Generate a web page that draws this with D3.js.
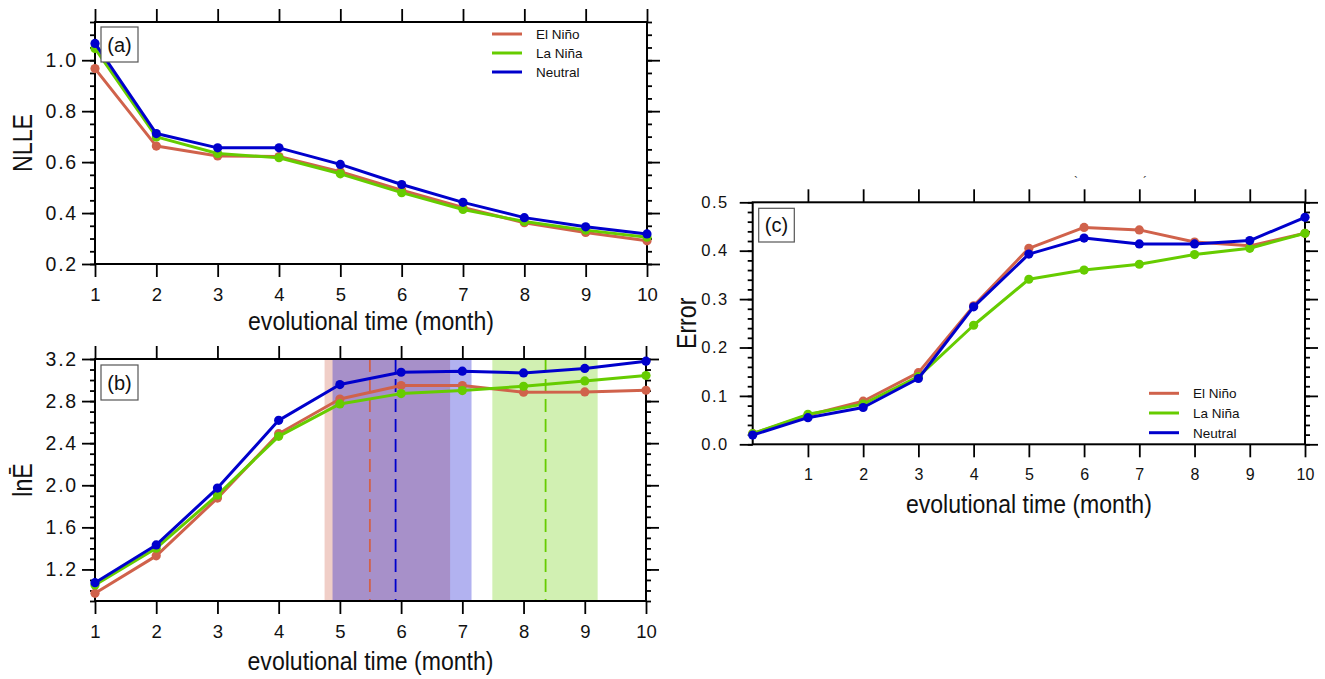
<!DOCTYPE html>
<html>
<head>
<meta charset="utf-8">
<script src="https://cdn.jsdelivr.net/npm/d3@7"></script>
<style>
  html, body { margin: 0; padding: 0; background: #fff; }
  svg { display: block; font-family: "Liberation Sans", Arial, Helvetica, sans-serif; }
</style>
</head>
<body>
<svg id="chart" width="1325" height="679"></svg>
<script>
// ---------------- DATA ----------------
const seriesNames = ["El Niño", "La Niña", "Neutral"];
const seriesColors = ["#d0624b", "#66cc00", "#0000cc"];

const months = [1, 2, 3, 4, 5, 6, 7, 8, 9, 10];
const monthsC = [0, 1, 2, 3, 4, 5, 6, 7, 8, 9, 10];

// (a) NLLE
const nlleElNino  = [0.967, 0.663, 0.624, 0.622, 0.562, 0.490, 0.422, 0.362, 0.324, 0.291];
const nlleLaNina  = [1.046, 0.699, 0.634, 0.617, 0.554, 0.480, 0.414, 0.367, 0.333, 0.305];
const nlleNeutral = [1.066, 0.712, 0.656, 0.656, 0.591, 0.512, 0.442, 0.382, 0.346, 0.318];

// (b) lnE
const lnEElNino  = [0.973, 1.329, 1.878, 2.490, 2.820, 2.948, 2.948, 2.884, 2.887, 2.903];
const lnELaNina  = [1.052, 1.402, 1.907, 2.465, 2.773, 2.871, 2.900, 2.941, 2.992, 3.043];
const lnENeutral = [1.074, 1.433, 1.973, 2.617, 2.957, 3.074, 3.084, 3.068, 3.110, 3.179];

// (b) shaded ranges and dashed means (El Niño, La Niña, Neutral)
const bandStart = [4.75, 7.49, 4.88];
const bandEnd   = [6.80, 9.21, 7.15];
const bandMean  = [5.49, 8.36, 5.91];

// (c) Error
const errElNino  = [0.022, 0.060, 0.089, 0.148, 0.286, 0.405, 0.448, 0.443, 0.418, 0.410, 0.436];
const errLaNina  = [0.022, 0.062, 0.083, 0.140, 0.246, 0.341, 0.360, 0.372, 0.392, 0.405, 0.436];
const errNeutral = [0.019, 0.055, 0.076, 0.136, 0.284, 0.393, 0.426, 0.414, 0.414, 0.421, 0.469];

// tick labels
const xTicks = [1, 2, 3, 4, 5, 6, 7, 8, 9, 10];
const yTicksA = [0.2, 0.4, 0.6, 0.8, 1.0];
const yTicksB = [1.2, 1.6, 2.0, 2.4, 2.8, 3.2];
const yTicksC = [0.0, 0.1, 0.2, 0.3, 0.4, 0.5];

const panelLabels = ["(a)", "(b)", "(c)"];
const yTitles = ["NLLE", "lnĒ", "Error"];
const xTitle = "evolutional time (month)";

// ---------------- DRAW ----------------
const svg = d3.select("#chart");
const FONT = '"Liberation Sans", Arial, Helvetica, sans-serif';

function drawPanel(cfg) {
  const g = svg.append("g");
  const x = d3.scaleLinear().domain(cfg.xDomain).range([cfg.left, cfg.right]);
  const y = d3.scaleLinear().domain(cfg.yDomain).range([cfg.bottom, cfg.top]);

  // bands
  if (cfg.bands) {
    const bandOrder = [0, 2, 1];
    bandOrder.forEach(i => {
      g.append("rect")
        .attr("x", x(bandStart[i])).attr("y", cfg.top)
        .attr("width", x(bandEnd[i]) - x(bandStart[i]))
        .attr("height", cfg.bottom - cfg.top)
        .attr("fill", cfg.bandColors[i])
        .attr("fill-opacity", 0.3);
    });
    bandOrder.forEach(i => {
      g.append("line")
        .attr("x1", x(bandMean[i])).attr("x2", x(bandMean[i]))
        .attr("y1", cfg.top).attr("y2", cfg.bottom)
        .attr("stroke", seriesColors[i]).attr("stroke-width", 1.8)
        .attr("stroke-dasharray", "13,7");
    });
  }

  const minorTicks = d3.range(cfg.yDomain[0], cfg.yDomain[1] + 1e-9, cfg.minorStep)
    .map(v => +v.toFixed(4));

  function styleAxis(sel) {
    sel.select(".domain").remove();
    sel.selectAll(".tick line").attr("stroke", "#000").attr("stroke-width", 1.8);
    sel.selectAll("text").attr("font-family", FONT).attr("fill", "#111");
  }

  // bottom
  g.append("g").attr("transform", `translate(0,${cfg.bottom})`)
    .call(d3.axisBottom(x).tickValues(xTicks).tickSize(13).tickPadding(11)
      .tickFormat(d3.format("d")))
    .call(styleAxis)
    .call(s => s.selectAll("text").attr("font-size", cfg.tickFont));
  // top
  g.append("g").attr("transform", `translate(0,${cfg.top})`)
    .call(d3.axisTop(x).tickValues(xTicks).tickSize(13).tickFormat(""))
    .call(styleAxis);
  // left minor
  g.append("g").attr("transform", `translate(${cfg.left},0)`)
    .call(d3.axisLeft(y).tickValues(minorTicks).tickSize(5).tickFormat(""))
    .call(styleAxis);
  // left major
  g.append("g").attr("transform", `translate(${cfg.left},0)`)
    .call(d3.axisLeft(y).tickValues(cfg.yTicks).tickSize(13).tickPadding(cfg.yPad)
      .tickFormat(d3.format(".1f")))
    .call(styleAxis)
    .call(s => s.selectAll("text").attr("font-size", cfg.yTickFont)
      .attr("letter-spacing", cfg.yLetter + "px"));
  // right minor + major
  g.append("g").attr("transform", `translate(${cfg.right},0)`)
    .call(d3.axisRight(y).tickValues(minorTicks).tickSize(5).tickFormat(""))
    .call(styleAxis);
  g.append("g").attr("transform", `translate(${cfg.right},0)`)
    .call(d3.axisRight(y).tickValues(cfg.yTicks).tickSize(13).tickFormat(""))
    .call(styleAxis);

  // frame
  g.append("rect")
    .attr("x", cfg.left).attr("y", cfg.top)
    .attr("width", cfg.right - cfg.left).attr("height", cfg.bottom - cfg.top)
    .attr("fill", "none").attr("stroke", "#000").attr("stroke-width", 2);

  // series
  const line = d3.line().x(d => x(d[0])).y(d => y(d[1]));
  cfg.series.forEach((vals, i) => {
    const pts = cfg.xs.map((m, k) => [m, vals[k]]);
    g.append("path").datum(pts)
      .attr("d", line).attr("fill", "none")
      .attr("stroke", seriesColors[i]).attr("stroke-width", 3)
      .attr("stroke-linejoin", "round");
    g.selectAll(null).data(pts).enter().append("circle")
      .attr("cx", d => x(d[0])).attr("cy", d => y(d[1]))
      .attr("r", 4.6).attr("fill", seriesColors[i]);
  });

  // panel label box
  const lb = cfg.labelBox;
  g.append("rect").attr("x", lb[0]).attr("y", lb[1]).attr("width", lb[2]).attr("height", lb[3])
    .attr("fill", "#fff").attr("stroke", "#555").attr("stroke-width", 1.2);
  g.append("text").attr("x", lb[0] + lb[2] / 2).attr("y", lb[1] + lb[3] / 2 + 7)
    .attr("text-anchor", "middle").attr("font-size", 20).attr("fill", "#111")
    .text(cfg.label);

  // legend
  if (cfg.legend) {
    const L = cfg.legend;
    seriesNames.forEach((n, i) => {
      const yy = L.y + i * L.dy;
      g.append("line").attr("x1", L.x).attr("x2", L.x + 30)
        .attr("y1", yy).attr("y2", yy)
        .attr("stroke", seriesColors[i]).attr("stroke-width", 3);
      g.append("text").attr("x", L.x + 44).attr("y", yy + 5)
        .attr("font-size", 13.5).attr("fill", "#111").text(n);
    });
  }

  // x title
  const cx = (cfg.left + cfg.right) / 2;
  g.append("text")
    .attr("transform", `translate(${cx},${cfg.xTitleY}) scale(0.87,1)`)
    .attr("text-anchor", "middle").attr("font-size", 26.5).attr("fill", "#111")
    .text(xTitle);
  // y title
  const cy = (cfg.top + cfg.bottom) / 2;
  g.append("text")
    .attr("transform", `translate(${cfg.yTitleX},${cy}) rotate(-90) scale(0.86,1)`)
    .attr("text-anchor", "middle").attr("font-size", 27).attr("fill", "#111")
    .text(cfg.yTitle);
  return g;
}

// (a)
drawPanel({
  left: 95, right: 647, top: 22, bottom: 264,
  xDomain: [1, 10], yDomain: [0.2, 1.15], yTicks: yTicksA, minorStep: 0.05,
  xs: months, series: [nlleElNino, nlleLaNina, nlleNeutral],
  label: panelLabels[0], labelBox: [101, 27, 37, 35],
  legend: { x: 492, y: 34, dy: 19 },
  xTitleY: 330, yTitleX: 32, yTitle: yTitles[0],
  tickFont: 18.5, yTickFont: 19.5, yPad: 4, yLetter: 1.8
});

// (b)
drawPanel({
  left: 95, right: 646, top: 359, bottom: 601,
  xDomain: [1, 10], yDomain: [0.9, 3.2], yTicks: yTicksB, minorStep: 0.1,
  xs: months, series: [lnEElNino, lnELaNina, lnENeutral],
  bands: true, bandColors: ["#cd5c46", "#66cc00", "#0000cc"],
  label: panelLabels[1], labelBox: [101, 365, 37, 35],
  xTitleY: 670, yTitleX: 32, yTitle: yTitles[1],
  tickFont: 18.5, yTickFont: 19.5, yPad: 4, yLetter: 1.8
});

// (c)
drawPanel({
  left: 752.7, right: 1305, top: 202.3, bottom: 444.3,
  xDomain: [0, 10], yDomain: [0, 0.5], yTicks: yTicksC, minorStep: 0.02,
  xs: monthsC, series: [errElNino, errLaNina, errNeutral],
  label: panelLabels[2], labelBox: [758.7, 208.3, 35.6, 33.7],
  legend: { x: 1149, y: 393.3, dy: 19.7 },
  xTitleY: 513, yTitleX: 696, yTitle: yTitles[2],
  tickFont: 16, yTickFont: 16.5, yPad: 11, yLetter: 1.5
});

// small stray marks above panel (c)
svg.append("text").attr("x", 1076).attr("y", 186).attr("font-size", 12)
  .attr("fill", "#333").attr("text-anchor", "middle").text("`");
svg.append("text").attr("x", 1145).attr("y", 186).attr("font-size", 12)
  .attr("fill", "#333").attr("text-anchor", "middle").text("´");
</script>
</body>
</html>
